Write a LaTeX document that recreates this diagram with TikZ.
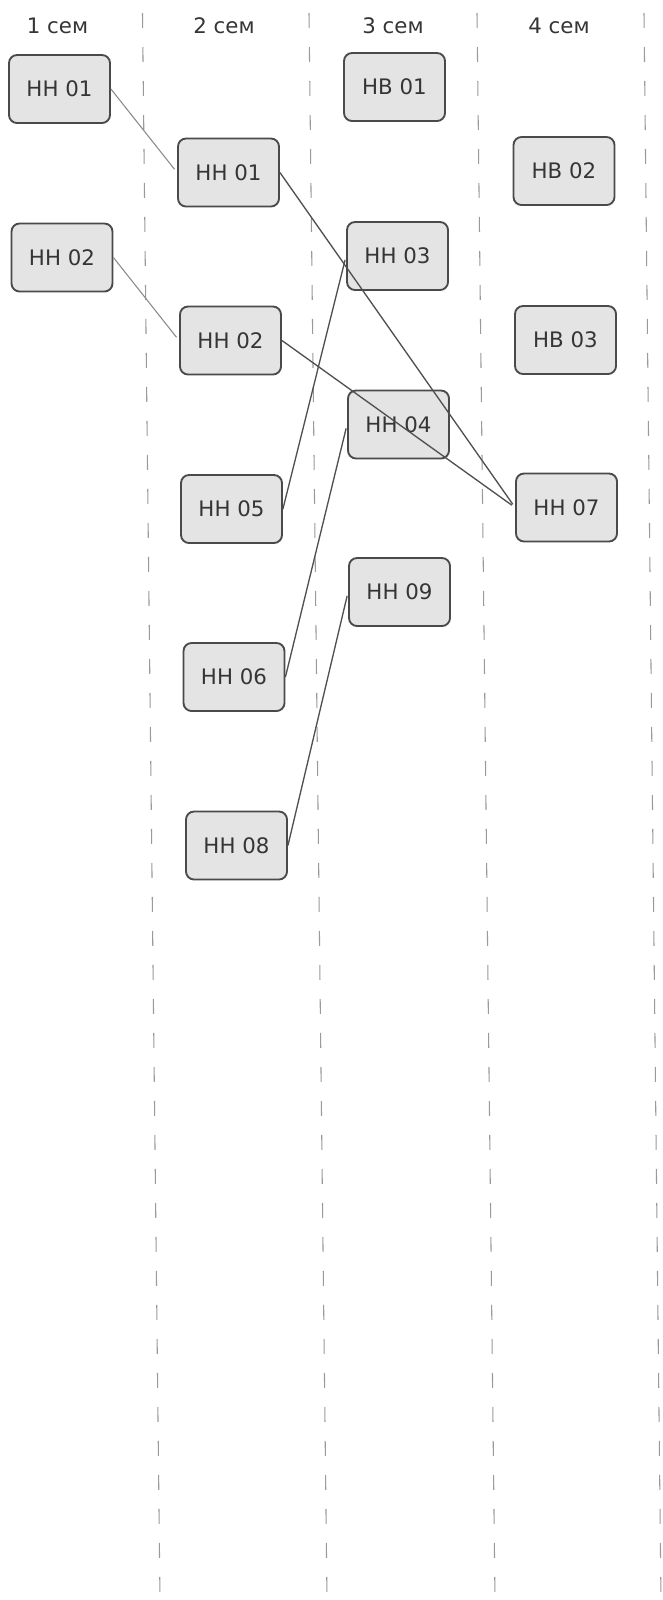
\documentclass[tikz,border=0pt]{standalone}
\usepackage{fontspec}
\setmainfont{DejaVu Sans}
\definecolor{boxline}{HTML}{4A4A4A}
\definecolor{boxfill}{HTML}{E4E4E4}
\definecolor{txt}{HTML}{353535}
\definecolor{linkc}{HTML}{505050}
\definecolor{lightc}{HTML}{8A8A8A}
\definecolor{sepc}{HTML}{9A9A9A}
\begin{document}
\begin{tikzpicture}[x=0.75pt,y=-0.75pt,
  box/.style={draw=boxline, line width=1.4pt, fill=boxfill, rounded corners=6pt,
    minimum width=75.75pt, minimum height=51pt, inner sep=0pt,
    font=\fontsize{16}{19}\selectfont, text=txt},
  link/.style={draw=linkc, line width=1pt, shorten >=3pt},
  lightlink/.style={draw=lightc, line width=0.8pt, shorten >=3pt},
  sep/.style={draw=sepc, line width=0.8pt, dash pattern=on 11.25pt off 14.25pt},
  head/.style={font=\fontsize{16}{19}\selectfont, text=txt, anchor=base}]
\useasboundingbox (0,0) rectangle (662,1600);
% column separators
\coordinate (t1) at (142.5,13); \coordinate (e1) at (160,1600);
\coordinate (t2) at (309,13);   \coordinate (e2) at (327,1600);
\coordinate (t3) at (477,13);   \coordinate (e3) at (495,1600);
\coordinate (t4) at (644,13);   \coordinate (e4) at (661,1600);
\draw[sep] (t1) -- (e1);
\draw[sep] (t2) -- (e2);
\draw[sep] (t3) -- (e3);
\draw[sep] (t4) -- (e4);
% headers
\node[head] (h1) at (57.5,33) {1 сем};
\node[head] (h2) at (224,33) {2 сем};
\node[head] (h3) at (393,33) {3 сем};
\node[head] (h4) at (559,33) {4 сем};
% nodes
\node[box] (a1) at (59.5,89) {НН 01};
\node[box] (a2) at (62,257.5) {НН 02};
\node[box] (b1) at (228.5,172.5) {НН 01};
\node[box] (b2) at (230.5,340.5) {НН 02};
\node[box] (b5) at (231.5,509) {НН 05};
\node[box] (b6) at (234,677) {НН 06};
\node[box] (b8) at (236.5,845.5) {НН 08};
\node[box] (c1) at (394.5,87) {НВ 01};
\node[box] (c3) at (397.5,256) {НН 03};
\node[box] (c4) at (398.5,424.5) {НН 04};
\node[box] (c9) at (399.5,592) {НН 09};
\node[box] (d2) at (564,171) {НВ 02};
\node[box] (d3) at (565.5,340) {НВ 03};
\node[box] (d7) at (566.5,507.5) {НН 07};
% connectors
\draw[lightlink] (a1.east) -- (b1.west);
\draw[lightlink] (a2.east) -- (b2.west);
\draw[link] (b1.east) -- (d7.west);
\draw[link] (b2.east) -- (d7.west);
\draw[link] (b5.east) -- (c3.west);
\draw[link] (b6.east) -- (c4.west);
\draw[link] (b8.east) -- (c9.west);
\end{tikzpicture}
\end{document}
